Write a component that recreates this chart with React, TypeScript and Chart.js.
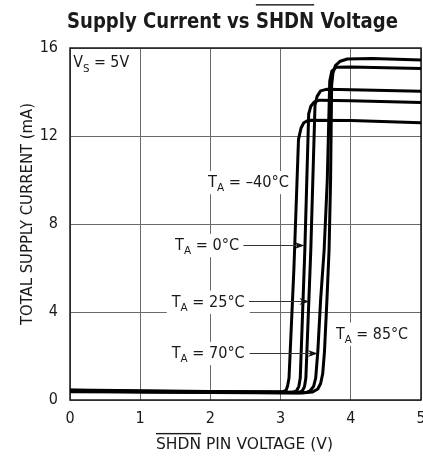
import React, { useEffect, useRef } from "react";
import { Chart, registerables } from "chart.js";

Chart.register(...registerables);

const FONT = "'Liberation Sans Narrow', 'DejaVu Sans Condensed', 'Liberation Sans', Arial, sans-serif";

// Axis ranges / ticks
const X_MIN = 0;
const X_MAX = 5;
const X_STEP = 1;
const Y_MIN = 0;
const Y_MAX = 16;
const Y_STEP = 4;

// Series: SHDN voltage (V) and supply current (mA)
const V_M40 = [0, 1, 2, 2.95, 3.04, 3.08, 3.1, 3.12, 3.19, 3.255, 3.29, 3.33, 3.4, 4, 5];
const I_M40 = [0.46, 0.42, 0.39, 0.37, 0.38, 0.45, 0.65, 1.0, 6.0, 11.85, 12.35, 12.6, 12.72, 12.7, 12.6];

const V_0 = [0, 1, 2, 3.08, 3.18, 3.23, 3.26, 3.28, 3.345, 3.4, 3.43, 3.48, 3.56, 4, 5];
const I_0 = [0.44, 0.4, 0.37, 0.35, 0.36, 0.43, 0.62, 1.0, 6.8, 13.0, 13.35, 13.55, 13.63, 13.6, 13.52];

const V_25 = [0, 1, 2, 3.15, 3.26, 3.31, 3.34, 3.36, 3.43, 3.49, 3.52, 3.57, 3.65, 4, 5];
const I_25 = [0.42, 0.38, 0.36, 0.34, 0.35, 0.42, 0.6, 1.0, 6.8, 13.4, 13.8, 14.05, 14.12, 14.1, 14.03];

const V_70 = [0, 1, 2, 3.22, 3.36, 3.42, 3.47, 3.5, 3.53, 3.57, 3.62, 3.665, 3.7, 3.73, 3.79, 4, 5];
const I_70 = [0.4, 0.37, 0.35, 0.33, 0.34, 0.42, 0.62, 1.0, 2.2, 4.55, 6.8, 10.0, 14.5, 14.95, 15.12, 15.14, 15.07];

const V_85 = [0, 1, 2, 3.3, 3.45, 3.53, 3.57, 3.6, 3.625, 3.66, 3.69, 3.712, 3.727, 3.745, 3.78, 3.85, 3.95, 4.3, 5];
const I_85 = [0.38, 0.36, 0.34, 0.32, 0.36, 0.5, 0.75, 1.2, 2.2, 4.55, 6.8, 10.0, 14.3, 14.85, 15.2, 15.4, 15.5, 15.52, 15.45];

const SERIES_NAMES = ["TA = –40°C", "TA = 0°C", "TA = 25°C", "TA = 70°C", "TA = 85°C"];

// Text annotations (main, subscript, rest)
const NOTE_VS = ["V", "S", " = 5V"];
const NOTE_M40 = ["T", "A", " = –40°C"];
const NOTE_0 = ["T", "A", " = 0°C"];
const NOTE_25 = ["T", "A", " = 25°C"];
const NOTE_70 = ["T", "A", " = 70°C"];
const NOTE_85 = ["T", "A", " = 85°C"];

const TITLE_PARTS = ["Supply Current vs ", "SHDN", " Voltage"];
const X_TITLE_PARTS = ["SHDN", " PIN VOLTAGE (V)"];
const Y_TITLE = "TOTAL SUPPLY CURRENT (mA)";

// placement of annotations (data coords: left x, centre y), target width px, arrow start/end x
const NOTE_LAYOUT = [
  { note: NOTE_VS, x: 0.045, y: 15.36, w: 56, bg: false },
  { note: NOTE_M40, x: 1.966, y: 9.92, w: 81, bg: true },
  { note: NOTE_0, x: 1.496, y: 7.06, w: 64, bg: true, ax0: 2.47, ax1: 3.34 },
  { note: NOTE_25, x: 1.449, y: 4.48, w: 73, bg: true, ax0: 2.55, ax1: 3.41 },
  { note: NOTE_70, x: 1.449, y: 2.15, w: 73, bg: true, ax0: 2.56, ax1: 3.53 },
  { note: NOTE_85, x: 3.79, y: 3.03, w: 72, bg: true },
];

function pts(xs: number[], ys: number[]) {
  return xs.map((x, i) => ({ x, y: ys[i] }));
}

function drawSub(
  ctx: CanvasRenderingContext2D,
  x: number,
  yc: number,
  parts: string[],
  fs: number,
  targetW: number,
  bg: boolean
) {
  const subFs = fs * 0.72;
  ctx.font = `${fs}px ${FONT}`;
  const w1 = ctx.measureText(parts[0]).width;
  ctx.font = `${subFs}px ${FONT}`;
  const w2 = ctx.measureText(parts[1]).width;
  ctx.font = `${fs}px ${FONT}`;
  const w3 = ctx.measureText(parts[2]).width;
  const W = w1 + w2 + w3;
  const sx = targetW ? targetW / W : 1;
  ctx.save();
  ctx.translate(x, yc);
  ctx.scale(sx, 1);
  if (bg) {
    ctx.fillStyle = "#ffffff";
    ctx.fillRect(-5 / sx, -fs * 0.72, W + 10 / sx, fs * 1.55);
  }
  ctx.fillStyle = "#1a1a1a";
  ctx.textBaseline = "alphabetic";
  ctx.textAlign = "left";
  const base = fs * 0.36;
  ctx.font = `${fs}px ${FONT}`;
  ctx.fillText(parts[0], 0, base);
  ctx.font = `${subFs}px ${FONT}`;
  ctx.fillText(parts[1], w1, base + fs * 0.28);
  ctx.font = `${fs}px ${FONT}`;
  ctx.fillText(parts[2], w1 + w2, base);
  ctx.restore();
}

function drawOverlined(
  ctx: CanvasRenderingContext2D,
  left: number,
  yc: number,
  parts: string[],
  overIdx: number,
  font: string,
  fs: number,
  targetW: number,
  overGap: number
) {
  ctx.font = font;
  const ws = parts.map((p) => ctx.measureText(p).width);
  const W = ws.reduce((a, b) => a + b, 0);
  const sx = targetW / W;
  ctx.save();
  ctx.translate(left, yc);
  ctx.scale(sx, 1);
  ctx.fillStyle = "#1a1a1a";
  ctx.textBaseline = "alphabetic";
  ctx.textAlign = "left";
  const base = fs * 0.36;
  let cx = 0;
  parts.forEach((p, i) => {
    ctx.fillText(p, cx, base);
    if (i === overIdx) {
      ctx.fillRect(cx, base - fs * 0.72 - overGap - 1.3, ws[i], 1.4);
    }
    cx += ws[i];
  });
  ctx.restore();
}

const overlay = {
  id: "overlay",
  beforeDatasetsDraw(chart: any) {
    const { ctx, chartArea: ca, scales } = chart;
    const xs = scales.x;
    const ys = scales.y;
    ctx.save();
    ctx.strokeStyle = "#1a1a1a";
    ctx.lineWidth = 1.5;
    ctx.strokeRect(ca.left, ca.top, ca.right - ca.left, ca.bottom - ca.top);
    for (const n of NOTE_LAYOUT) {
      drawSub(ctx, xs.getPixelForValue(n.x), ys.getPixelForValue(n.y), n.note, 15, n.w, n.bg);
    }
    ctx.restore();
  },
  afterDatasetsDraw(chart: any) {
    const { ctx, scales } = chart;
    const xs = scales.x;
    const ys = scales.y;
    ctx.save();
    ctx.strokeStyle = "#333";
    ctx.fillStyle = "#111";
    ctx.lineWidth = 1;
    for (const n of NOTE_LAYOUT) {
      const a = n as any;
      if (a.ax0 === undefined) continue;
      const x0 = xs.getPixelForValue(a.ax0);
      const x1 = xs.getPixelForValue(a.ax1);
      const y = Math.round(ys.getPixelForValue(n.y)) + 0.5;
      ctx.beginPath();
      ctx.moveTo(x0, y);
      ctx.lineTo(x1 - 6, y);
      ctx.stroke();
      ctx.beginPath();
      ctx.moveTo(x1, y);
      ctx.lineTo(x1 - 10, y - 3.5);
      ctx.lineTo(x1 - 7, y);
      ctx.lineTo(x1 - 10, y + 3.5);
      ctx.closePath();
      ctx.fill();
    }
    ctx.restore();
  },
  afterDraw(chart: any) {
    const { ctx } = chart;
    // Title
    drawOverlined(ctx, 67, 20.5, TITLE_PARTS, 1, `bold 21px ${FONT}`, 21, 331, 7.5);
    // X axis title
    drawOverlined(ctx, 156, 443, X_TITLE_PARTS, 0, `16px ${FONT}`, 16, 177, 3);
    // Y axis title
    ctx.save();
    ctx.translate(26, 214);
    ctx.rotate(-Math.PI / 2);
    ctx.font = `16px ${FONT}`;
    const w = ctx.measureText(Y_TITLE).width;
    ctx.scale(222 / w, 1);
    ctx.fillStyle = "#1a1a1a";
    ctx.textAlign = "center";
    ctx.textBaseline = "alphabetic";
    ctx.fillText(Y_TITLE, 0, 16 * 0.36);
    ctx.restore();
  },
};

export default function App() {
  const ref = useRef<HTMLCanvasElement>(null);
  useEffect(() => {
    const series = [
      pts(V_M40, I_M40),
      pts(V_0, I_0),
      pts(V_25, I_25),
      pts(V_70, I_70),
      pts(V_85, I_85),
    ];
    const chart = new Chart(ref.current as HTMLCanvasElement, {
      type: "line",
      data: {
        datasets: series.map((d, i) => ({
          label: SERIES_NAMES[i],
          data: d,
          borderColor: "#000",
          backgroundColor: "#000",
          borderWidth: 3,
          borderJoinStyle: "round" as const,
          borderCapStyle: "round" as const,
          pointRadius: 0,
          fill: false,
          tension: 0,
        })),
      },
      options: {
        responsive: false,
        devicePixelRatio: 1,
        animation: false,
        layout: { padding: { top: 48, right: 2, left: 0, bottom: 0 } },
        plugins: {
          legend: { display: false },
          tooltip: { enabled: false },
          title: { display: false },
        },
        scales: {
          x: {
            type: "linear",
            min: X_MIN,
            max: X_MAX,
            ticks: {
              stepSize: X_STEP,
              font: { family: FONT, size: 16 },
              color: "#1a1a1a",
              padding: 9,
              maxRotation: 0,
              autoSkip: false,
            },
            grid: { color: "#6a6a6a", lineWidth: 1, drawTicks: false },
            border: { display: false },
            afterFit: (s: any) => {
              s.height = 57;
              s.paddingLeft = 0;
              s.paddingRight = 0;
            },
          },
          y: {
            type: "linear",
            min: Y_MIN,
            max: Y_MAX,
            ticks: {
              stepSize: Y_STEP,
              font: { family: FONT, size: 16 },
              color: "#1a1a1a",
              padding: 12,
            },
            grid: { color: "#6a6a6a", lineWidth: 1, drawTicks: false },
            border: { display: false },
            afterFit: (s: any) => {
              s.width = 70;
              s.paddingTop = 0;
              s.paddingBottom = 0;
            },
          },
        },
      },
      plugins: [overlay],
    });
    return () => chart.destroy();
  }, []);
  return (
    <div style={{ position: "absolute", left: 0, top: 0, width: 423, height: 457, background: "#fff" }}>
      <canvas ref={ref} width={423} height={457} style={{ display: "block", width: 423, height: 457 }} />
    </div>
  );
}
